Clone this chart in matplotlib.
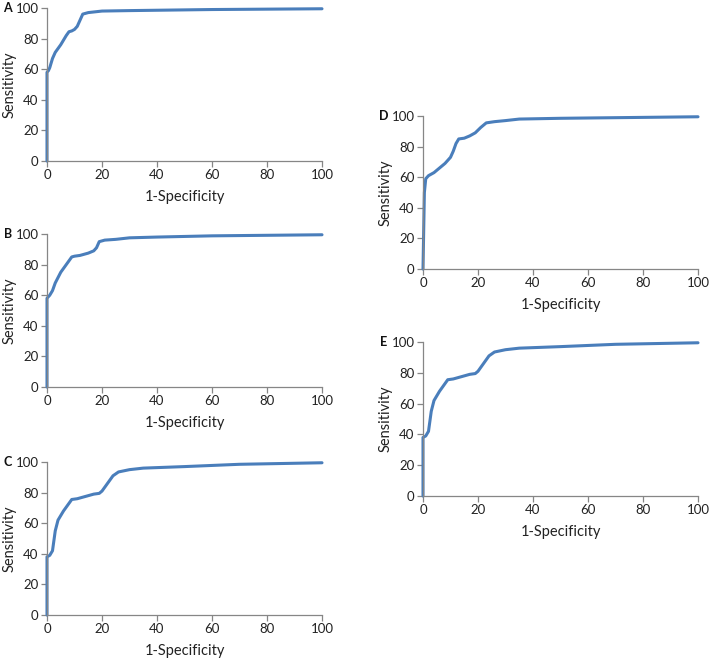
import matplotlib
matplotlib.use('Agg')
import matplotlib.pyplot as plt

# ROC curves (x = 1-specificity, y = sensitivity)
a_x = [0, 0, 0.5, 1, 2, 3, 5, 7, 8, 9, 10, 11, 12, 13, 15, 20, 30, 60, 100]
a_y = [0, 58, 59, 61, 67, 71, 76, 82, 84.5, 85, 86, 88, 92, 96, 97, 98, 98.3, 99, 99.5]

b_x = [0, 0, 1, 2, 3, 5, 7, 9, 10, 12, 15, 17, 18, 19, 21, 25, 30, 40, 60, 100]
b_y = [0, 58, 60, 63, 68, 75, 80, 85, 85.5, 86, 87.5, 89, 91, 95, 96, 96.5, 97.5, 98, 98.8, 99.5]

c_x = [0, 0, 1, 2, 3, 4, 6, 8, 9, 11, 14, 17, 19, 20, 22, 24, 26, 30, 35, 50, 70, 100]
c_y = [0, 38, 39, 42, 55, 62, 68, 73, 75.5, 76, 77.5, 79, 79.5, 81, 86, 91, 93.5, 95, 96, 97, 98.5, 99.5]

d_x = [0, 0.5, 1, 2, 4, 6, 8, 10, 11, 12, 13, 15, 17, 19, 21, 23, 26, 30, 35, 50, 100]
d_y = [0, 50, 59, 61, 63, 66, 69, 73, 77, 82, 85, 85.5, 87, 89, 92.5, 95.5, 96.3, 97, 98, 98.5, 99.5]

e_x = [0, 0, 1, 2, 3, 4, 6, 8, 9, 11, 14, 17, 19, 20, 22, 24, 26, 30, 35, 50, 70, 100]
e_y = [0, 38, 39, 42, 55, 62, 68, 73, 75.5, 76, 77.5, 79, 79.5, 81, 86, 91, 93.5, 95, 96, 97, 98.5, 99.5]

plt.rcParams['font.family'] = ['Lato', 'DejaVu Sans']

fig = plt.figure(figsize=(7.09, 6.58), dpi=100)

W, H = 709.0, 658.0


def add_panel(left, top, bottom, label, xs, ys):
    ax = fig.add_axes([left / W, 1 - bottom / H, 275 / W, (bottom - top) / H])
    ax.plot(xs, ys, color='#4a7ebb', lw=2.2, solid_joinstyle='round',
            solid_capstyle='round', clip_on=False)
    ax.set_xlim(0, 100)
    ax.set_ylim(0, 100)
    ax.set_xticks(range(0, 101, 20))
    ax.set_yticks(range(0, 101, 20))
    for s in ['top', 'right']:
        ax.spines[s].set_visible(False)
    for s in ['left', 'bottom']:
        ax.spines[s].set_color('#868686')
        ax.spines[s].set_linewidth(0.9)
    ax.tick_params(direction='out', length=4, width=0.9, color='#868686',
                   labelsize=9.5, labelcolor='#222222', pad=2)
    ax.set_xlabel('1-Specificity', fontsize=10.5, color='#222222')
    ax.set_ylabel('Sensitivity', fontsize=10.5, color='#222222')
    ax.xaxis.set_label_coords(0.5, -0.19)
    ax.yaxis.set_label_coords(-0.112, 0.5)
    ax.text(-0.143, 1.0, label, transform=ax.transAxes, fontsize=9,
            fontweight='bold', ha='center', va='center', color='#111111')
    return ax


add_panel(47, 8, 161, 'A', a_x, a_y)
add_panel(47, 234, 387, 'B', b_x, b_y)
add_panel(47, 462, 615, 'C', c_x, c_y)
add_panel(423, 116, 269, 'D', d_x, d_y)
add_panel(423, 342, 496, 'E', e_x, e_y)

fig.savefig('out.png', dpi=100)
